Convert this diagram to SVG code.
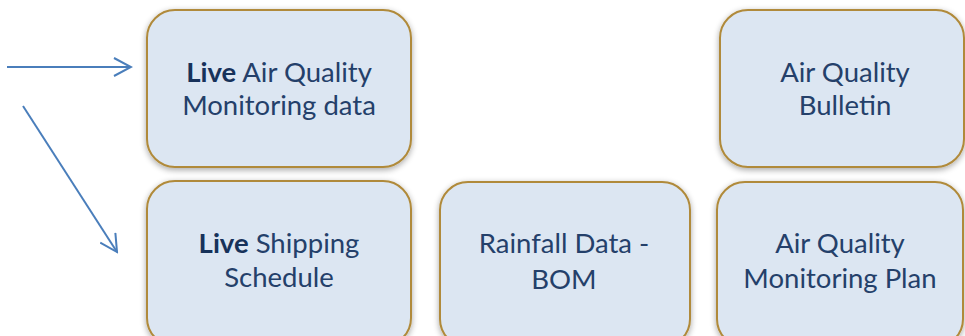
<svg xmlns="http://www.w3.org/2000/svg" width="965" height="336" viewBox="0 0 965 336">
<style>
.box{fill:#dce6f2;stroke:#b08a3a;stroke-width:2}
.t{font-family:Lato,"Open Sans",sans-serif;font-size:27.5px;fill:#24406a;text-anchor:middle}
.b{font-weight:bold;fill:#17325a}
.c{stroke:#4a7ebb;stroke-width:2;fill:none}
</style>
<defs>
<filter id="sh" x="-10%" y="-10%" width="120%" height="130%">
<feGaussianBlur in="SourceAlpha" stdDeviation="3"/>
<feOffset dx="0" dy="2"/>
<feComponentTransfer><feFuncA type="linear" slope="0.35"/></feComponentTransfer>
<feMerge><feMergeNode/><feMergeNode in="SourceGraphic"/></feMerge>
</filter>
<marker id="ah" viewBox="0 0 20 20" refX="18" refY="10" markerWidth="20" markerHeight="20" markerUnits="userSpaceOnUse" orient="auto">
<path d="M1 1 L18 10 L1 19" fill="none" stroke="#4a7ebb" stroke-width="2"/>
</marker>
</defs>
<g id="connectors">
<line class="c" x1="7" y1="67" x2="131" y2="67" marker-end="url(#ah)"/>
<line class="c" x1="23" y1="106" x2="117" y2="252" marker-end="url(#ah)"/>
</g>
<g id="live-aq">
<rect class="box" filter="url(#sh)" x="147" y="10" width="264" height="157" rx="28"/>
<text class="t" x="279" y="82"><tspan class="b">Live</tspan> Air Quality</text>
<text class="t" x="279" y="115">Monitoring data</text>
</g>
<g id="bulletin">
<rect class="box" filter="url(#sh)" x="720" y="10" width="244" height="157" rx="28"/>
<text class="t" x="845" y="82">Air Quality</text>
<text class="t" x="845" y="115">Bulletin</text>
</g>
<g id="shipping">
<rect class="box" filter="url(#sh)" x="147" y="181" width="264" height="165" rx="28"/>
<text class="t" x="279" y="253"><tspan class="b">Live</tspan> Shipping</text>
<text class="t" x="279" y="287">Schedule</text>
</g>
<g id="rainfall">
<rect class="box" filter="url(#sh)" x="440" y="182" width="250" height="165" rx="28"/>
<text class="t" x="564" y="253">Rainfall Data -</text>
<text class="t" x="564" y="289">BOM</text>
</g>
<g id="plan">
<rect class="box" filter="url(#sh)" x="717" y="182" width="246" height="165" rx="28"/>
<text class="t" x="840" y="253">Air Quality</text>
<text class="t" x="840" y="288">Monitoring Plan</text>
</g>
</svg>
